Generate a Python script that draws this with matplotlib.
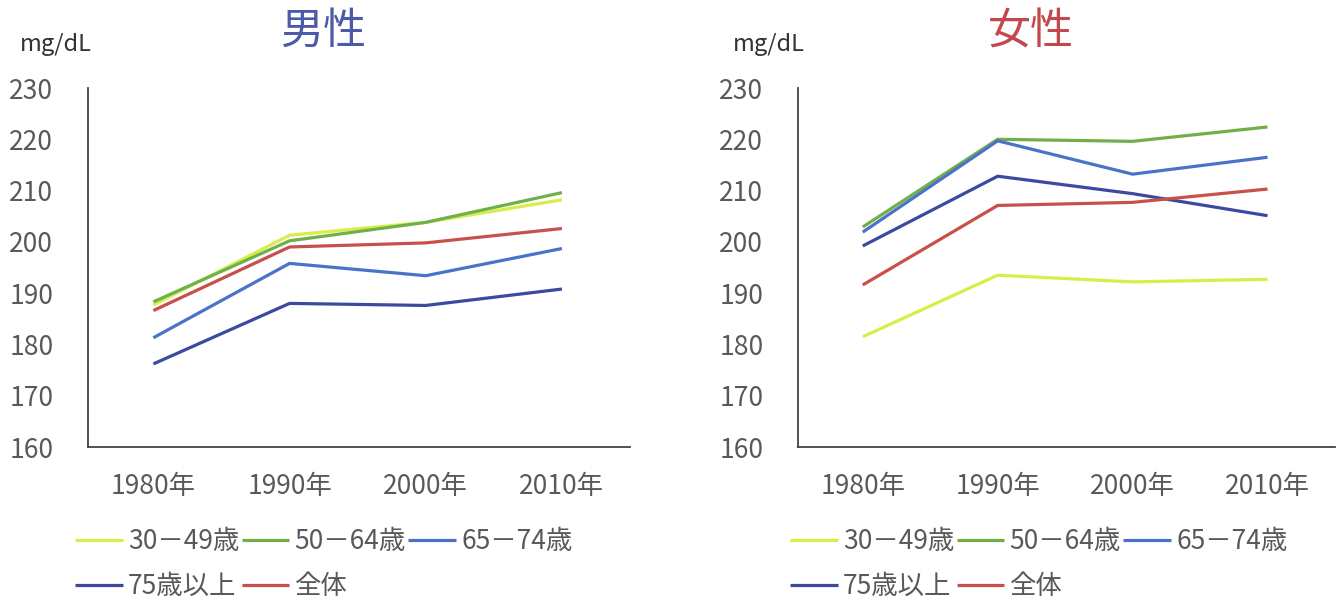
import matplotlib
matplotlib.use("Agg")
import matplotlib.pyplot as plt

plt.rcParams['font.family'] = ['Noto Sans CJK JP', 'DejaVu Sans']

years = ["1980年", "1990年", "2000年", "2010年"]
groups = ["30－49歳", "50－64歳", "65－74歳", "75歳以上", "全体"]
colors = ["#d8ee48", "#6fb04a", "#4a72c8", "#3b4aa0", "#c8504a"]

# Mean total cholesterol (mg/dL) by age group
male_30_49 = [187.7, 201.3, 203.8, 208.2]
male_50_64 = [188.3, 200.2, 203.8, 209.6]
male_65_74 = [181.3, 195.8, 193.4, 198.7]
male_75_up = [176.2, 188.0, 187.6, 190.8]
male_all = [186.6, 199.0, 199.8, 202.6]

female_30_49 = [181.5, 193.5, 192.2, 192.7]
female_50_64 = [202.9, 220.0, 219.6, 222.4]
female_65_74 = [201.9, 219.7, 213.2, 216.5]
female_75_up = [199.2, 212.8, 209.4, 205.1]
female_all = [191.6, 207.1, 207.7, 210.3]

male = [male_30_49, male_50_64, male_65_74, male_75_up, male_all]
female = [female_30_49, female_50_64, female_65_74, female_75_up, female_all]

W, H = 1338, 599
fig = plt.figure(figsize=(W / 100, H / 100), dpi=100)
fig.patch.set_facecolor("white")

tick_color = "#595959"


def panel(x0, x1, series, title, title_color, title_x, unit_x, legend_x):
    ax = fig.add_axes([x0 / W, 1 - 447 / H, (x1 - x0) / W, (447 - 88) / H])
    xs = range(len(years))
    lines = []
    for vals, c, name in zip(series, colors, groups):
        ln, = ax.plot(xs, vals, color=c, lw=2.3, label=name,
                      solid_capstyle="butt", solid_joinstyle="round")
        lines.append(ln)
    ax.set_xlim(-0.48, 3.50)
    ax.set_ylim(160, 230)
    ax.set_yticks(range(160, 231, 10))
    ax.set_xticks(list(xs))
    ax.set_xticklabels(years)
    for s in ["top", "right"]:
        ax.spines[s].set_visible(False)
    for s in ["left", "bottom"]:
        ax.spines[s].set_color("#444444")
        ax.spines[s].set_linewidth(1.3)
    ax.tick_params(axis="y", length=0, pad=25, labelsize=19, labelcolor=tick_color)
    ax.tick_params(axis="x", length=0, pad=19, labelsize=19, labelcolor=tick_color)
    fig.text(title_x / W, 1 - 32 / H, title, color=title_color, fontsize=31,
             ha="center", va="center")
    fig.text(unit_x / W, 1 - 45 / H, "mg/dL", color="#333333", fontsize=17,
             ha="left", va="center")
    # legend laid out as a 3-column grid, filled column by column
    order = [0, 3, 1, 4, 2]
    ax.legend([lines[i] for i in order], [groups[i] for i in order],
              loc="upper left", bbox_to_anchor=(legend_x / W, 1 - 528 / H),
              bbox_transform=fig.transFigure, ncol=3, frameon=False,
              fontsize=19, handlelength=1.8, handletextpad=0.2,
              columnspacing=0.1, labelspacing=0.68, borderpad=0,
              borderaxespad=0, labelcolor=tick_color)
    return ax


panel(88, 630, male, "男性", "#4c5aa8", 323, 20, 75)
panel(798, 1335, female, "女性", "#c2484e", 1031, 733, 790)

fig.savefig("out.png", dpi=100, facecolor="white")
